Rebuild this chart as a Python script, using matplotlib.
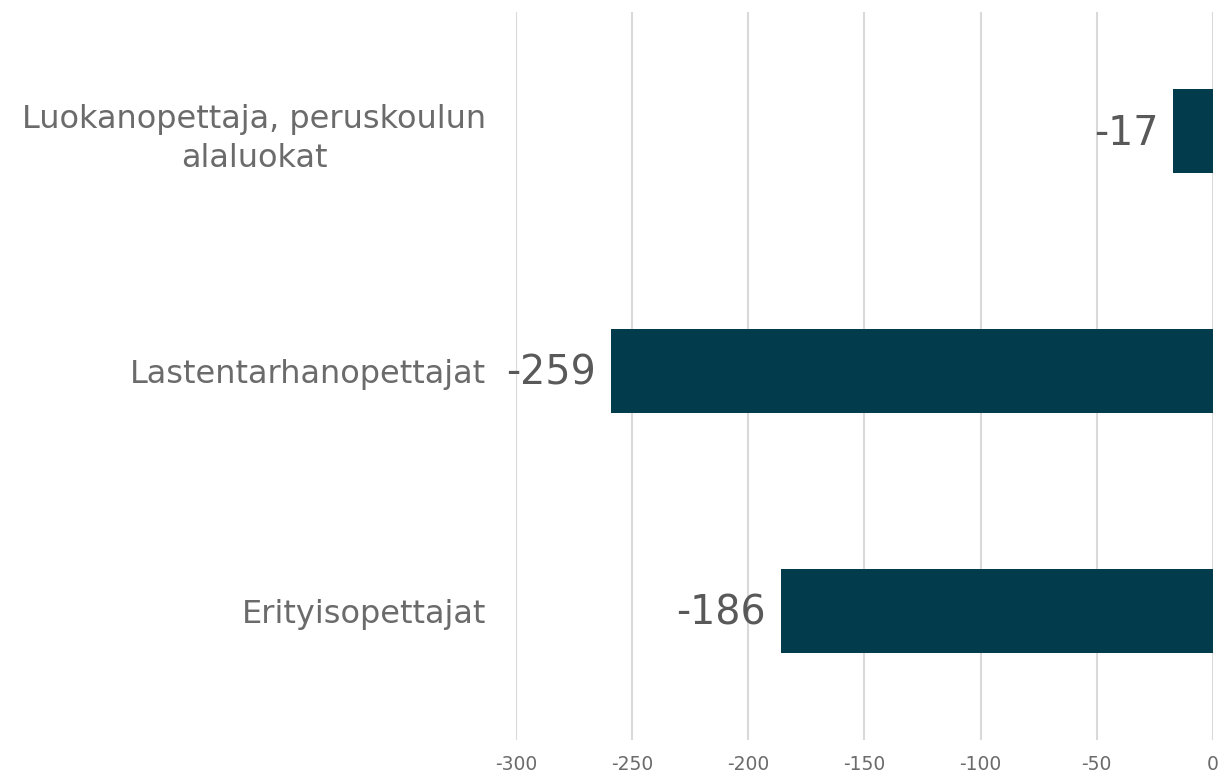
import matplotlib
matplotlib.use("Agg")
import matplotlib.pyplot as plt

categories = ["Luokanopettaja, peruskoulun\nalaluokat", "Lastentarhanopettajat", "Erityisopettajat"]
values = [-17, -259, -186]
xticks = [-300, -250, -200, -150, -100, -50, 0]

bar_color = "#023b4b"
label_color = "#6b6b6b"

fig = plt.figure(figsize=(12.21, 7.74), dpi=100)
ax = fig.add_axes([0.4226, 0.0439, 0.5708, 0.9406])

y = list(range(len(categories)))
ax.barh(y, values, height=0.35, color=bar_color, zorder=3)

for yi, v in zip(y, values):
    ax.annotate(str(v), xy=(v, yi), xytext=(-11, -2), textcoords="offset points",
                ha="right", va="center", fontsize=28.5, color="#595959")

ax.set_xlim(-300, 0)
ax.set_ylim(2.5375, -0.496)
ax.set_xticks(xticks)
ax.set_xticklabels([str(t) for t in xticks], fontsize=13.5, color=label_color)
ax.set_yticks(y)
ax.set_yticklabels(categories, fontsize=23, color=label_color)
ax.tick_params(axis="y", length=0, pad=21.5)
ax.tick_params(axis="x", length=0, pad=11)
for lbl in ax.get_yticklabels():
    lbl.set_multialignment("center")
    lbl.set_linespacing(1.35)

ax.grid(axis="x", color="#d9d9d9", linewidth=1.5, zorder=0)
for s in ax.spines.values():
    s.set_visible(False)

fig.savefig("out.png", dpi=100)
